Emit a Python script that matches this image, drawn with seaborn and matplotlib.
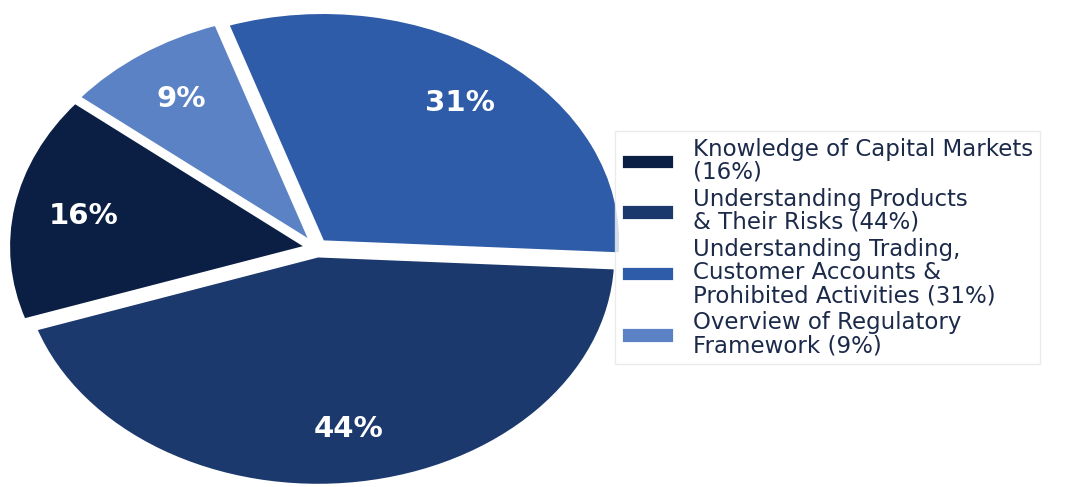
import matplotlib
matplotlib.use("Agg")
import matplotlib.pyplot as plt
import seaborn as sns

labels = ["Knowledge of Capital Markets\n(16%)",
          "Understanding Products\n& Their Risks (44%)",
          "Understanding Trading,\nCustomer Accounts &\nProhibited Activities (31%)",
          "Overview of Regulatory\nFramework (9%)"]
values = [16, 44, 31, 9]
colors = ["#0b1f45", "#1c396e", "#2e5ca8", "#5b82c4"]
explode = [0.035, 0.035, 0.035, 0.035]

sns.set_theme(style="white")
plt.rcParams['font.family'] = ['DejaVu Sans']
palette = sns.color_palette(colors)

fig = plt.figure(figsize=(10.81, 4.87), dpi=100)
ax = fig.add_axes([-0.0100, -0.027, 0.6057, 1.035])
wedges, texts, autotexts = ax.pie(values, colors=palette, explode=explode, startangle=141,
                                  counterclock=True, autopct='%1.0f%%', pctdistance=0.76,
                                  textprops=dict(color='white', fontsize=21, fontweight='bold'),
                                  wedgeprops=dict(edgecolor='white', linewidth=2))
ax.set_aspect('auto')
ax.set_xlim(-1.1, 1.1)
ax.set_ylim(-1.1, 1.1)

leg = fig.legend(wedges, labels, loc='center left', bbox_to_anchor=(615/1081, 1-247.5/487),
                 fontsize=16.5, frameon=True, handlelength=2.3, handleheight=0.65,
                 labelspacing=0.18, borderpad=0.28, handletextpad=0.83, fancybox=False,
                 borderaxespad=0)
leg.get_frame().set_edgecolor('#e6e6e6')
leg.get_frame().set_linewidth(1.0)
for t in leg.get_texts():
    t.set_color('#1c2a4a')
    t.set_linespacing(1.0)

fig.savefig("out.png", dpi=100)
